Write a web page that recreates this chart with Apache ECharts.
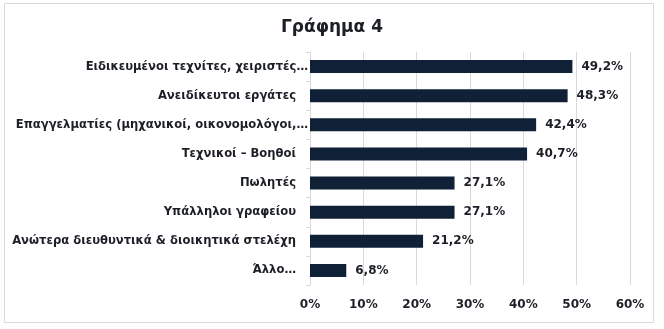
<!DOCTYPE html>
<html>
<head>
<meta charset="utf-8">
<script src="https://cdn.jsdelivr.net/npm/echarts@6/dist/echarts.min.js"></script>
<style>
  html, body { margin: 0; padding: 0; background: #ffffff; }
  #chart { width: 664px; height: 329px; }
</style>
</head>
<body>
<div id="chart"></div>
<script>
// Job categories, top to bottom
const categories = [
  'Ειδικευμένοι τεχνίτες, χειριστές…',
  'Ανειδίκευτοι εργάτες',
  'Επαγγελματίες (μηχανικοί, οικονομολόγοι,…',
  'Τεχνικοί – Βοηθοί',
  'Πωλητές',
  'Υπάλληλοι γραφείου',
  'Ανώτερα διευθυντικά & διοικητικά στελέχη',
  'Άλλο…'
];
// Share of respondents (%)
const values = [49.2, 48.3, 42.4, 40.7, 27.1, 27.1, 21.2, 6.8];
// Percent axis ticks
const axisMin = 0;
const axisMax = 60;
const axisStep = 10;

const FONT = 'DejaVu Sans';
const TEXT = '#1c1f26';
const GRID = '#d9d9d9';
const BAR = '#0f2037';

const pct = v => v.toFixed(1).replace('.', ',') + '%';
// Shortened names (ending in an ellipsis) run right up to the axis;
// full names keep a gap before it.
const isCut = s => s.endsWith('…') && s.length > 10;

const chart = echarts.init(document.getElementById('chart'), null, { renderer: 'canvas' });
chart.setOption({
  animation: false,
  backgroundColor: '#ffffff',
  graphic: [{
    type: 'rect',
    shape: { x: 4.5, y: 3.5, width: 649, height: 319 },
    style: { fill: 'none', stroke: GRID, lineWidth: 1 },
    silent: true
  }],
  title: {
    text: 'Γράφημα 4',
    left: 'center',
    top: 14,
    textStyle: { fontFamily: FONT, fontSize: 17, fontWeight: 'bold', color: TEXT }
  },
  grid: { left: 310, right: 34, top: 52, bottom: 44, containLabel: false, outerBoundsMode: 'none' },
  xAxis: {
    type: 'value',
    min: axisMin,
    max: axisMax,
    interval: axisStep,
    axisLine: { show: false },
    axisTick: { show: false },
    splitLine: { show: true, lineStyle: { color: GRID, width: 1 } },
    axisLabel: {
      margin: 14,
      formatter: v => v + '%',
      fontFamily: FONT, fontSize: 12, fontWeight: 'bold', color: TEXT
    }
  },
  yAxis: {
    type: 'category',
    data: categories,
    inverse: true,
    axisLine: { show: true, lineStyle: { color: GRID, width: 1 } },
    axisTick: { show: true, length: 4, lineStyle: { color: GRID } },
    axisLabel: {
      margin: 2,
      formatter: s => isCut(s) ? '{c|' + s + '}' : '{f|' + s + '}',
      rich: {
        c: { fontFamily: FONT, fontSize: 11.6, fontWeight: 'bold', color: TEXT },
        f: { fontFamily: FONT, fontSize: 11.6, fontWeight: 'bold', color: TEXT, padding: [0, 12, 0, 0] }
      }
    }
  },
  series: [{
    type: 'bar',
    data: values,
    barWidth: 13,
    itemStyle: { color: BAR },
    label: {
      show: true,
      position: 'right',
      distance: 9,
      formatter: p => pct(p.value),
      fontFamily: FONT, fontSize: 12, fontWeight: 'bold', color: TEXT
    }
  }]
});
</script>
</body>
</html>
